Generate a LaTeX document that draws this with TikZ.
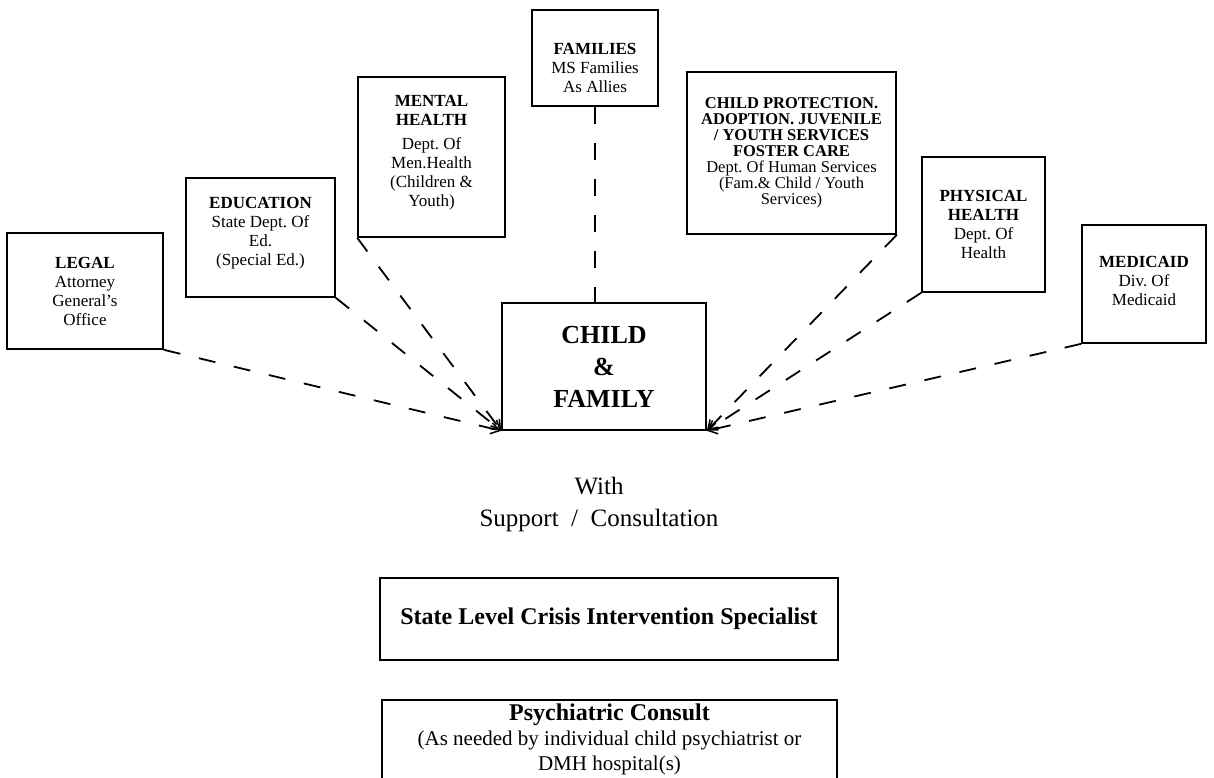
\documentclass[tikz,border=0pt]{standalone}
\usepackage{fontspec}
\setmainfont{Liberation Serif}
\frenchspacing
\usetikzlibrary{arrows.meta}
\tikzset{
  box/.style={draw, line width=1.6pt, inner sep=0pt},
  lbl/.style={align=center, font=\fontsize{17}{19}\selectfont, inner sep=0pt},
  link/.style={line width=1.8pt, dash pattern=on 17pt off 19pt},
  arr/.style={link, -{Straight Barb[length=9pt,width=11pt,line width=1.5pt]}}
}
\begin{document}
\begin{tikzpicture}[x=1pt,y=-1pt]
\useasboundingbox (0,0) rectangle (1214,777);
\clip (0,0) rectangle (1214,777);
\fill[white] (0,0) rectangle (1214,777);

% top boxes
\node[box, minimum width=156pt, minimum height=116pt] (legal) at (85,291) {};
\node[lbl] (legalT) at (85,291) {\textbf{LEGAL}\\Attorney\\General’s\\Office};

\node[box, minimum width=149pt, minimum height=119pt] (educ) at (260.5,237.5) {};
\node[lbl] (educT) at (260.5,233) {\textbf{EDUCATION}\\State Dept. Of\\Ed.\\(Special Ed.)};

\node[box, minimum width=147pt, minimum height=160pt] (mental) at (431.5,157) {};
\node[lbl] (mentalT) at (431.5,153) {\textbf{MENTAL}\\\textbf{HEALTH}\\[5pt]Dept. Of\\Men.Health\\(Children \&\\Youth)};

\node[box, minimum width=126pt, minimum height=96pt] (fam) at (595,58) {};
\node[lbl] (famT) at (595,68) {\textbf{FAMILIES}\\MS Families\\As Allies};

\node[box, minimum width=209pt, minimum height=162pt] (cps) at (791.5,153) {};
\node[lbl, font=\fontsize{16.5}{16}\selectfont] (cpsT) at (791.5,153) {\textbf{CHILD PROTECTION.}\\\textbf{ADOPTION. JUVENILE}\\\textbf{/ YOUTH SERVICES}\\\textbf{FOSTER CARE}\\Dept. Of Human Services\\(Fam.\& Child / Youth\\Services)};

\node[box, minimum width=123pt, minimum height=135pt] (phys) at (983.5,224.5) {};
\node[lbl] (physT) at (983.5,224.5) {\textbf{PHYSICAL}\\\textbf{HEALTH}\\Dept. Of\\Health};

\node[box, minimum width=124pt, minimum height=118pt] (medi) at (1144,284) {};
\node[lbl] (mediT) at (1144,281) {\textbf{MEDICAID}\\Div. Of\\Medicaid};

% center box
\node[box, minimum width=204pt, minimum height=127pt, align=center,
      font=\fontsize{26}{32}\selectfont\bfseries] (child) at (604,366.5) {CHILD\\\&\\FAMILY};

% connectors
\draw[arr] (legal.south east) -- (child.south west);
\draw[arr] (educ.south east) -- (child.south west);
\draw[arr] (mental.south west) -- (child.south west);
\draw[link] (fam.south) -- (fam.south |- child.north);
\draw[arr] (cps.south east) -- (child.south east);
\draw[arr] (phys.south west) -- (child.south east);
\draw[arr] (medi.south west) -- (child.south east);

% with support
\node[align=center, inner sep=0pt, font=\fontsize{25}{32}\selectfont] (with) at (599,504) {With\\Support~~/~~Consultation};

% lower boxes
\node[box, minimum width=458pt, minimum height=82pt, font=\fontsize{24}{28}\selectfont\bfseries] (state) at (609,619) {State Level Crisis Intervention Specialist};

\node[box, minimum width=455pt, minimum height=110pt] (psych) at (609.5,755) {};
\node[align=center, inner sep=0pt, anchor=north, font=\fontsize{21}{25}\selectfont] (psychT) at (609.5,704) {{\fontsize{24}{25}\selectfont\bfseries Psychiatric Consult}\\(As needed by individual child psychiatrist or\\DMH hospital(s)};
\end{tikzpicture}
\end{document}
